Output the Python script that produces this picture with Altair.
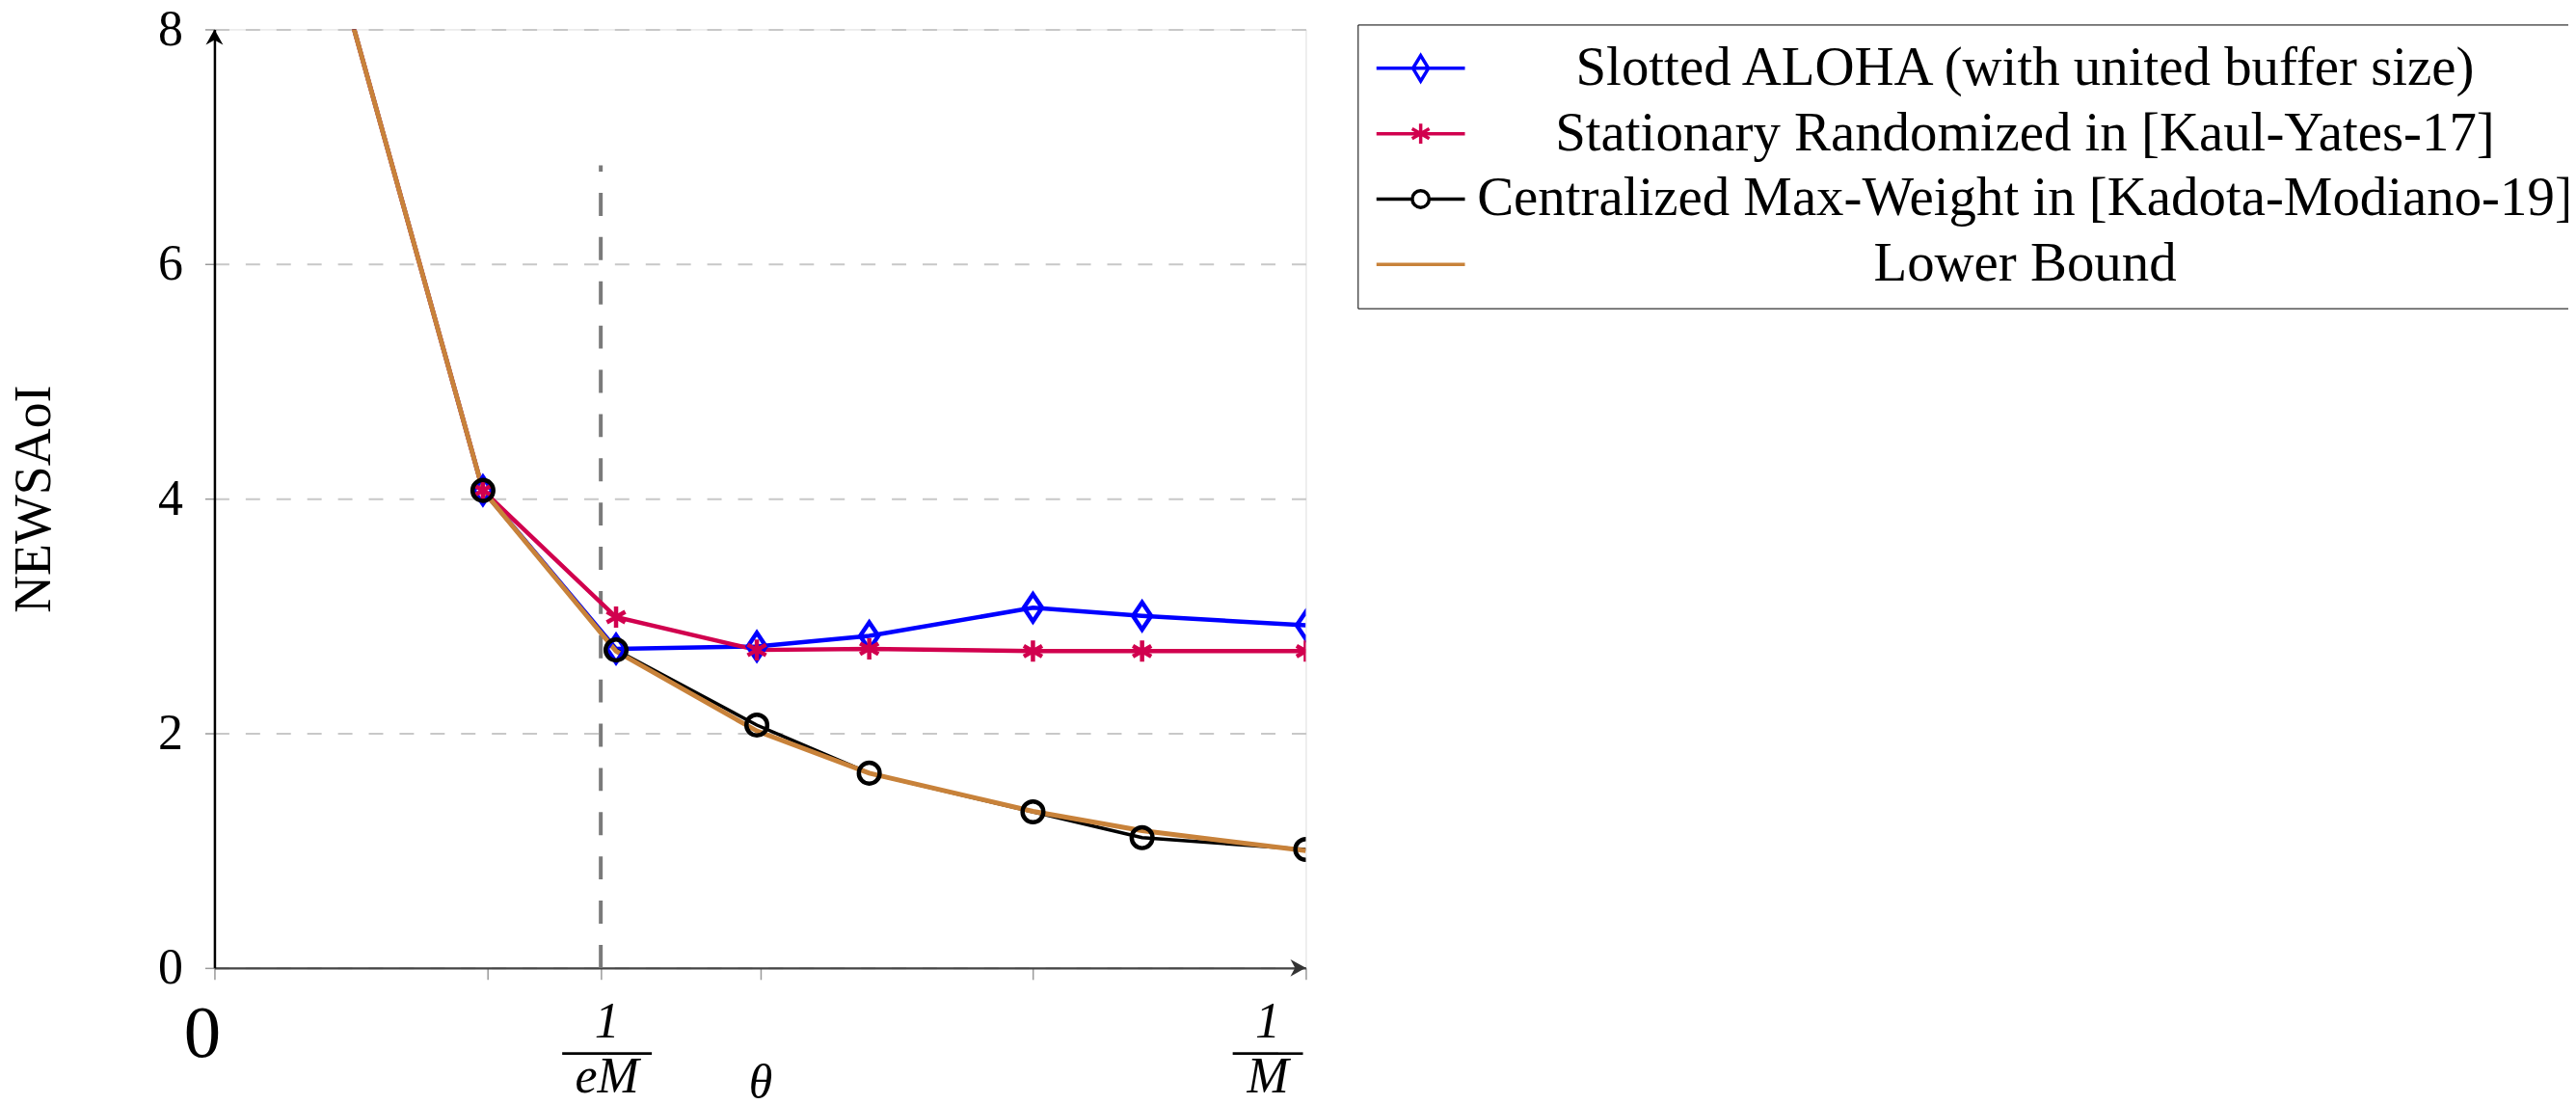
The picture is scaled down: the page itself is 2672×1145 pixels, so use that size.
import altair as alt
import pandas as pd

# ---------------- data ----------------
theta = [0.125, 0.246, 0.368, 0.497, 0.600, 0.750, 0.850, 1.000]
slotted = [8.1, 4.07, 2.72, 2.74, 2.83, 3.07, 3.00, 2.92]
stationary = [8.1, 4.07, 2.99, 2.71, 2.72, 2.70, 2.70, 2.70]
centralized = [8.1, 4.07, 2.71, 2.07, 1.66, 1.33, 1.11, 1.01]
lower_bound = [8.1, 4.07, 2.70, 2.02, 1.66, 1.335, 1.17, 1.00]

series_names = [
    "Slotted ALOHA (with united buffer size)",
    "Stationary Randomized in [Kaul-Yates-17]",
    "Centralized Max-Weight in [Kadota-Modiano-19]",
    "Lower Bound",
]
series_values = [slotted, stationary, centralized, lower_bound]

x_ticks = [0, 0.25, 0.354, 0.5, 0.75, 1.0]
y_ticks = [0, 2, 4, 6, 8]
eM_theta = 0.354        # position of the 1/(eM) marker line
eM_line_top = 6.84      # height of the dashed 1/(eM) line

# ---------------- styles ----------------
series_colors = ["#0000ff", "#d1004e", "#000000", "#c8823a"]
series_widths = [4.5, 4.5, 3.5, 5]
marker_paths = [
    "M0,-1L0.67,0L0,1L-0.67,0Z",                                   # diamond
    "M0,-1V1M-0.87,-0.5L0.87,0.5M-0.87,0.5L0.87,-0.5",               # asterisk
    "circle",                                                        # circle
    None,
]
marker_sizes = [800, 484, 470, 0]
legend_paths = [
    "M-2,0H2M0,-0.58L0.35,0L0,0.58L-0.35,0Z",
    "M-2,0H2M0,-0.45V0.45M-0.39,-0.225L0.39,0.225M-0.39,0.225L0.39,-0.225",
    "M-2,0H-0.38A0.38,0.38 0 1,1 0.38,0A0.38,0.38 0 1,1 -0.38,0M0.38,0H2",
    "M-2,0H2",
]
FONT = "Liberation Serif"

rows = []
for name, vals in zip(series_names, series_values):
    for t, v in zip(theta, vals):
        rows.append({"series": name, "theta": t, "value": v})
df = pd.DataFrame(rows)

x_label_expr = (
    "datum.value == 0 ? '0' : (datum.value == 1 ? ['1', '\u2014\u2013', 'M'] : "
    "(abs(datum.value - 0.354) < 0.001 ? ['1', '\u2014\u2014', 'eM'] : ''))"
)

x_axis = alt.Axis(
    values=x_ticks,
    labelExpr=x_label_expr,
    grid=False,
    domainColor="#444444",
    domainWidth=2.5,
    tickColor="#9a9a9a",
    tickWidth=1.5,
    tickSize=12,
    labelFont=FONT,
    labelFontSize={"condition": {"test": "datum.value == 0", "value": 77}, "value": 52},
    labelFontStyle={"condition": {"test": "datum.value == 0", "value": "normal"}, "value": "italic"},
    labelOffset={
        "condition": [
            {"test": "datum.value == 0", "value": -13},
            {"test": "datum.value == 1", "value": -40},
        ],
        "value": 6,
    },
    labelBaseline="top",
    labelLineHeight=28.5,
    labelPadding=19,
    labelOverlap=False,
    labelFlush=False,
    labelBound=False,
    labelColor="black",
    title="\u03b8",
    titleFont=FONT,
    titleFontSize=50,
    titleFontStyle="italic",
    titleFontWeight="normal",
    titleX=567.5,
    titleY=120,
    titleBaseline="middle",
    titleAlign="center",
    titleColor="black",
)

y_axis = alt.Axis(
    values=y_ticks,
    format="d",
    grid=True,
    gridColor="#c8c8c8",
    gridWidth=2,
    gridDash=[15, 17],
    domainColor="black",
    domainWidth=2.5,
    tickColor="#9a9a9a",
    tickWidth=1.5,
    tickSize=10,
    labelFont=FONT,
    labelFontSize=52,
    labelPadding=23,
    labelColor="black",
    title="NEWSAoI",
    titleFont=FONT,
    titleFontSize=54,
    titleFontWeight="normal",
    titleColor="black",
    titleX=-171,
    titleY=488,
    titleAngle=270,
    titleBaseline="alphabetic",
    titleAlign="center",
)

X = alt.X("theta:Q", scale=alt.Scale(domain=[0, 1], nice=False, zero=False), axis=x_axis)
Y = alt.Y("value:Q", scale=alt.Scale(domain=[0, 8], nice=False, zero=True), axis=y_axis)

layers = []

# dashed 1/(eM) line
rule_df = pd.DataFrame({"theta": [eM_theta], "value": [0.0], "value2": [eM_line_top]})
layers.append(
    alt.Chart(rule_df)
    .mark_rule(color="#7a7a7a", strokeWidth=4, strokeDash=[24, 22])
    .encode(x=X, y=Y, y2=alt.Y2("value2:Q"))
)

# series lines + markers
for i, name in enumerate(series_names):
    sub = df[df["series"] == name]
    layers.append(
        alt.Chart(sub)
        .mark_line(color=series_colors[i], strokeWidth=series_widths[i], clip=True)
        .encode(x=X, y=Y, order="theta:Q")
    )
for i, name in enumerate(series_names):
    if marker_paths[i] is None:
        continue
    sub = df[(df["series"] == name) & (df["value"] <= 8)]
    layers.append(
        alt.Chart(sub)
        .mark_point(
            shape=marker_paths[i],
            size=marker_sizes[i],
            filled=False,
            color=series_colors[i],
            strokeWidth=4.5,
            opacity=1,
            clip=True,
        )
        .encode(x=X, y=Y)
    )

# axis arrows
arrow_up = pd.DataFrame({"theta": [0.0], "value": [8.0]})
arrow_right = pd.DataFrame({"theta": [1.0], "value": [0.0]})
layers.append(
    alt.Chart(arrow_up)
    .mark_point(shape="M0,0L-0.56,1L0,0.7L0.56,1Z", size=1024, filled=True, color="black", opacity=1)
    .encode(x=X, y=Y)
)
layers.append(
    alt.Chart(arrow_right)
    .mark_point(shape="M0,0L-1,-0.56L-0.7,0L-1,0.56Z", size=1024, filled=True, color="#333333", opacity=1)
    .encode(x=X, y=Y)
)

# legend carrier (no visible marks)
leg = alt.Legend(
    title=None,
    orient="none",
    legendX=1189,
    legendY=-5,
    padding=17,
    strokeColor="black",
    fillColor="white",
    cornerRadius=0,
    labelFont=FONT,
    labelFontSize=57,
    labelColor="black",
    labelAlign="center",
    labelOffset=600,
    labelLimit=0,
    symbolOffset=20,
    symbolSize=2116,
    symbolStrokeWidth=3.5,
    symbolFillColor="transparent",
    rowPadding=10,
)
layers.append(
    alt.Chart(df)
    .transform_filter("false")
    .mark_point(filled=False, strokeWidth=3.5, opacity=1)
    .encode(
        x=X,
        y=Y,
        color=alt.Color("series:N", scale=alt.Scale(domain=series_names, range=series_colors), legend=leg),
        shape=alt.Shape("series:N", scale=alt.Scale(domain=series_names, range=legend_paths), legend=leg),
    )
)

chart = (
    alt.layer(*layers)
    .properties(
        width=1135,
        height=976,
        autosize=alt.AutoSizeParams(type="none"),
        padding={"left": 215, "top": 21, "right": 1313, "bottom": 140},
        background="white",
    )
    .configure_view(stroke=None)
    .configure(font=FONT)
)

chart.save("out.html", embed_options={"renderer": "svg", "actions": False})
